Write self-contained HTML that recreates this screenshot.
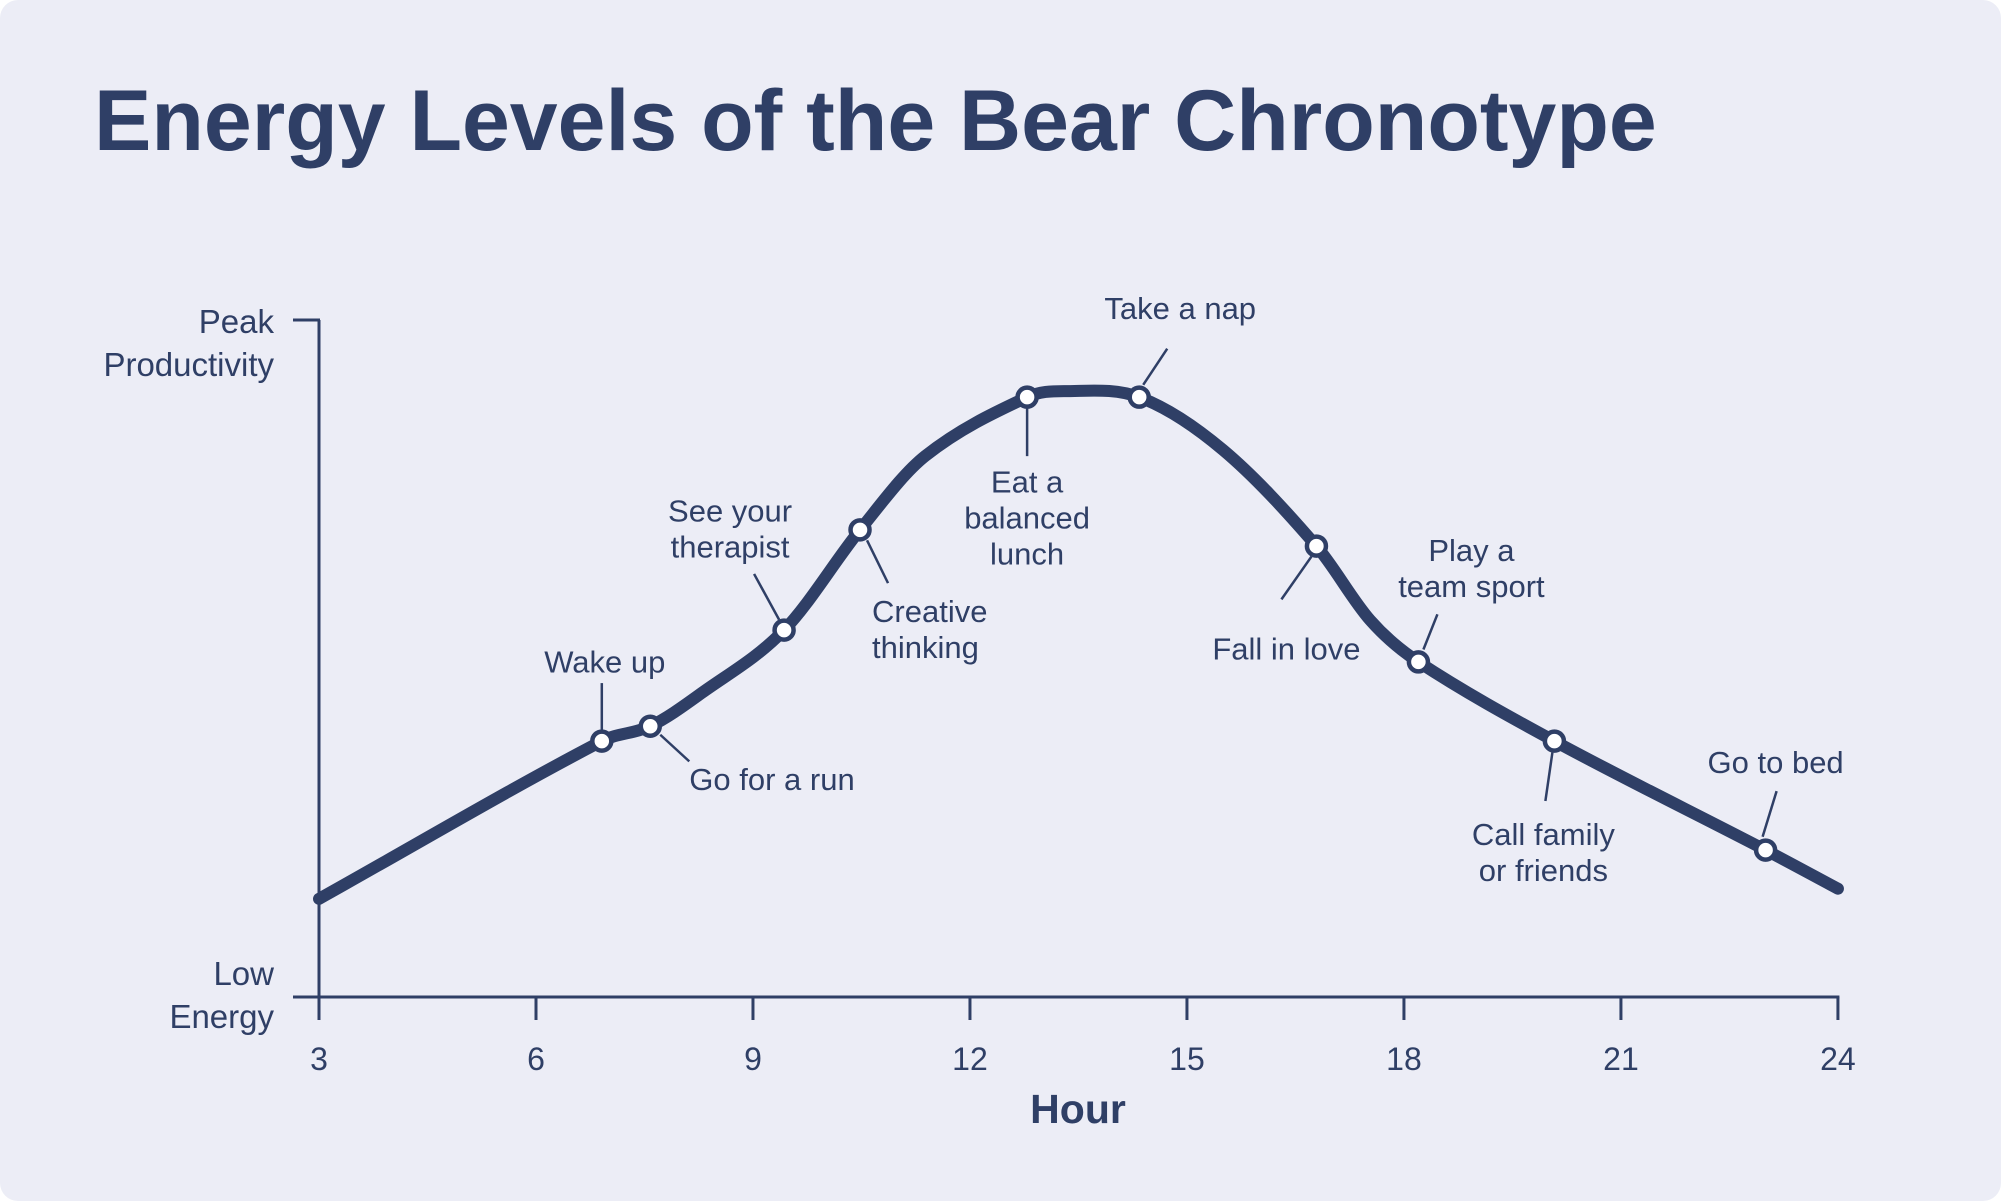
<!DOCTYPE html>
<html><head><meta charset="utf-8"><style>
html,body{margin:0;padding:0;background:#fff;}
#card{position:absolute;left:0;top:0;width:2001px;height:1201px;background:#ecedf6;border-radius:18px;overflow:hidden;}
svg text{font-family:"Liberation Sans",sans-serif;fill:#2f3f66;}
</style></head><body>
<div id="card">
<svg id="chart" width="2001" height="1201">
<text x="94" y="150" font-size="86" font-weight="bold">Energy Levels of the Bear Chronotype</text>
<g id="axes"></g>
<g id="series"></g>
<g id="annots"></g>
<text x="1078" y="1123" font-size="41" font-weight="bold" text-anchor="middle">Hour</text>
<text x="274" y="333" font-size="33" text-anchor="end"><tspan x="274">Peak</tspan><tspan x="274" dy="43">Productivity</tspan></text>
<text x="274" y="985" font-size="33" text-anchor="end"><tspan x="274">Low</tspan><tspan x="274" dy="43">Energy</tspan></text>
</svg>
</div>
<script>
const hours = [3, 6.91, 7.58, 8.29, 9.43, 10.48, 11.38, 12.79, 13.3, 14.34, 15.5, 16.79, 17.53, 18.2, 20.08, 23.0, 24];
const energy = [14.5, 37.8, 40.0, 44.9, 54.2, 69.0, 79.9, 88.6, 89.5, 88.6, 80.8, 66.6, 55.7, 49.5, 37.8, 21.7, 16];
const markerHours = [6.91, 7.58, 9.43, 10.48, 12.79, 14.34, 16.79, 18.2, 20.08, 23.0];
const markerValues = [37.8, 40.0, 54.2, 69.0, 88.6, 88.6, 66.6, 49.5, 37.8, 21.7];
const markerLabels = [["Wake up"],["Go for a run"],["See your","therapist"],["Creative","thinking"],["Eat a","balanced","lunch"],["Take a nap"],["Fall in love"],["Play a","team sport"],["Call family","or friends"],["Go to bed"]];
const xTicks = [3, 6, 9, 12, 15, 18, 21, 24];

const C = '#2f3f66';
const NS = 'http://www.w3.org/2000/svg';
const X = h => 319 + (h - 3) * 72.33;
const Y = v => 997 - v * 6.77;
function mk(tag, attrs, parent){const e=document.createElementNS(NS,tag);for(const k in attrs)e.setAttribute(k,attrs[k]);parent.appendChild(e);return e;}

const axes = document.getElementById('axes');
let l = mk('line',{x1:319,y1:Y(100),x2:319,y2:997,stroke:C,'stroke-width':3},axes);


l = mk('line',{x1:293,y1:Y(100),x2:320,y2:Y(100),stroke:C,'stroke-width':3},axes);


l = mk('line',{x1:293,y1:997,x2:X(24)+1.5,y2:997,stroke:C,'stroke-width':3},axes);


xTicks.forEach(t=>{
  const tk = mk('line',{x1:X(t),y1:997,x2:X(t),y2:1020,stroke:C,'stroke-width':3},axes);
  
  
  const tx = mk('text',{x:X(t),y:1070,'font-size':32,'text-anchor':'middle'},axes);
  tx.textContent = t;
  
  
});

const pts = hours.map((h,i)=>[X(h),Y(energy[i])]);
const n = pts.length;
const m = pts.map((p,i)=>{
  const a = pts[Math.max(0,i-1)], b = pts[Math.min(n-1,i+1)];
  return (b[1]-a[1])/(b[0]-a[0]);
});
let d = 'M'+pts[0][0]+','+pts[0][1];
for(let i=0;i<n-1;i++){
  const p1=pts[i],p2=pts[i+1],dx=p2[0]-p1[0];
  d+=' C'+(p1[0]+dx/3)+','+(p1[1]+m[i]*dx/3)+' '+(p2[0]-dx/3)+','+(p2[1]-m[i+1]*dx/3)+' '+p2[0]+','+p2[1];
}
const series = document.getElementById('series');
const path = mk('path',{d:d,fill:'none',stroke:C,'stroke-width':12,'stroke-linecap':'round','stroke-linejoin':'round'},series);



const off = [
 {l:[0,-12,0,-61],t:[3,-72],a:'middle',lh:36},
 {l:[10,9,39,37],t:[39,67],a:'start',lh:36},
 {l:[-5,-11,-30,-59],t:[-54,-114],a:'middle',lh:36},
 {l:[7,11,28,56],t:[12,97],a:'start',lh:36},
 {l:[0,10,0,62],t:[0,100],a:'middle',lh:36},
 {l:[4,-13,28,-51],t:[41,-82],a:'middle',lh:36},
 {l:[-5,11,-35,56],t:[-30,119],a:'middle',lh:36},
 {l:[5,-13,19,-50],t:[53,-106],a:'middle',lh:36},
 {l:[-2,12,-9,63],t:[-11,109],a:'middle',lh:36},
 {l:[-3,-14,11,-62],t:[10,-81],a:'middle',lh:36}
];
const sy = 0.951;
const ann = document.getElementById('annots');
markerHours.forEach((h,i)=>{
  const mx=X(h), my=Y(markerValues[i]), o=off[i];
  const ld = mk('line',{x1:mx+o.l[0],y1:my+o.l[1]*sy,x2:mx+o.l[2],y2:my+o.l[3]*sy,stroke:C,'stroke-width':2.5},ann);
  
  
  const tx = mk('text',{x:mx+o.t[0],y:my+o.t[1]*sy,'font-size':31,'text-anchor':o.a},ann);
  
  
  markerLabels[i].forEach((s,j)=>{const ts=mk('tspan',{x:mx+o.t[0],dy:j?o.lh:0},tx);ts.textContent=s;});
  const c = mk('circle',{cx:mx,cy:my,r:9.5,fill:'#fff',stroke:C,'stroke-width':4.5},series);
  
  
});
</script>
</body></html>
